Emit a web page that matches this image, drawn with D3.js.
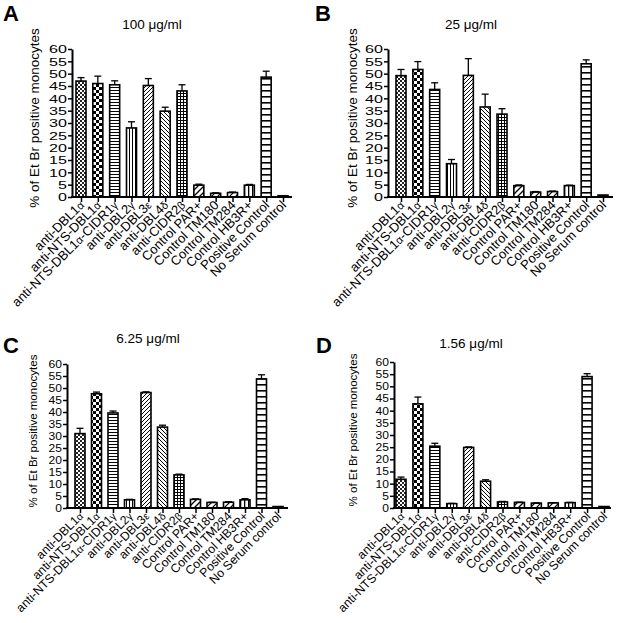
<!DOCTYPE html>
<html><head><meta charset="utf-8">
<script src="https://cdn.jsdelivr.net/npm/d3@7"></script>
<style>body{margin:0;background:#fff} svg{display:block}</style>
</head><body>
<svg id="c" width="617" height="623"></svg>
<script>
const categories = ["anti-DBL1α","anti-NTS-DBL1α","anti-NTS-DBL1α-CIDR1γ","anti-DBL2γ","anti-DBL3ε","anti-DBL4δ","anti-CIDR2β","Control PAR+","Control TM180","Control TM284","Control HB3R+","Positive Control","No Serum control"];
const concentrations = ["100 μg/ml","25 μg/ml","6.25 μg/ml","1.56 μg/ml"];
const panelLetters = ["A","B","C","D"];
const yTicks = [0,5,10,15,20,25,30,35,40,45,50,55,60];
const yLabel = "% of Et Br positive monocytes";

const values100 = [47, 46, 45.5, 28, 45.2, 34.8, 43, 4.8, 1.5, 1.8, 4.8, 48.6, 0.5];
const errors100 = [1.4, 3, 1.6, 2.5, 2.8, 1.6, 2.5, 0.4, 0.2, 0.2, 0.3, 2.4, 0];
const values25  = [49.2, 51.7, 43.6, 13.5, 49.3, 36.5, 33.6, 4.6, 2.0, 2.2, 4.6, 54, 0.8];
const errors25  = [2.5, 3.2, 2.7, 1.7, 6.8, 5.2, 2.2, 0.3, 0.2, 0.2, 0.2, 1.6, 0];
const values625 = [31, 47.6, 39.6, 3.4, 48.1, 33.7, 13.8, 3.6, 2.3, 2.4, 3.4, 53.8, 0.6];
const errors625 = [2.2, 0.7, 0.8, 0.2, 0.3, 0.8, 0.3, 0.2, 0.1, 0.2, 0.5, 1.7, 0];
const values156 = [11.8, 42.8, 25.4, 1.8, 24.9, 11, 2.5, 2.3, 2.0, 2.1, 2.2, 54, 0.6];
const errors156 = [0.9, 2.8, 1.2, 0.1, 0.2, 0.6, 0.2, 0.1, 0.1, 0.1, 0.1, 1.2, 0];

const seriesValues = [values100, values25, values625, values156];
const seriesErrors = [errors100, errors25, errors625, errors156];

// layout (positions / sizes), kept apart from data
const layout = [
  {x0:72, xEnd:292, c0:81, c1:283, yTop:49, yBase:197, letterX:3, letterY:21, titleX:152, titleY:29, ylabX:34, ylabY:118, ylabSize:13.5, tickFont:11.5, tickStretch:1.4, xlabFont:13},
  {x0:388, xEnd:613, c0:401, c1:603, yTop:49, yBase:197, letterX:315, letterY:21, titleX:471, titleY:29, ylabX:352, ylabY:118, ylabSize:13.5, tickFont:11.5, tickStretch:1.4, xlabFont:13},
  {x0:67, xEnd:288, c0:80, c1:278, yTop:364, yBase:508, letterX:3, letterY:353, titleX:148, titleY:343, ylabX:33, ylabY:431, ylabSize:11.5, tickFont:10.5, tickStretch:1.15, xlabFont:12.3},
  {x0:394, xEnd:611, c0:401, c1:604, yTop:362, yBase:508, letterX:316, letterY:353, titleX:471, titleY:348, ylabX:353, ylabY:430, ylabSize:11.5, tickFont:10.5, tickStretch:1.15, xlabFont:12.3}
];

const FONT = "'Liberation Sans', Arial, Helvetica, sans-serif";
const svg = d3.select("#c");
svg.append("rect").attr("width",617).attr("height",623).attr("fill","#fff");
const defs = svg.append("defs");

function pat(id, w, h, draw) {
  const p = defs.append("pattern").attr("id", id).attr("patternUnits","userSpaceOnUse")
    .attr("width", w).attr("height", h);
  p.append("rect").attr("width", w).attr("height", h).attr("fill", "#fff");
  draw(p);
}
pat("p0", 4, 4, p => { p.append("rect").attr("width",2).attr("height",2).attr("fill","#222");
                        p.append("rect").attr("x",2).attr("y",2).attr("width",2).attr("height",2).attr("fill","#222"); });
pat("p1", 6, 6, p => { p.append("rect").attr("width",3).attr("height",3).attr("fill","#000");
                        p.append("rect").attr("x",3).attr("y",3).attr("width",3).attr("height",3).attr("fill","#000"); });
pat("p2", 3, 3, p => { p.append("rect").attr("width",3).attr("height",1).attr("fill","#000"); });
pat("p3", 3, 3, p => { p.append("rect").attr("width",1).attr("height",3).attr("fill","#000"); });
pat("p4", 4, 4, p => { p.append("path").attr("d","M0,4L4,0M-1,1L1,-1M3,5L5,3").attr("stroke","#000").attr("stroke-width",1); });
pat("p5", 4, 4, p => { p.append("path").attr("d","M0,0L4,4M-1,3L1,5M3,-1L5,1").attr("stroke","#000").attr("stroke-width",1); });
pat("p6", 3, 3, p => { p.append("rect").attr("width",3).attr("height",1).attr("fill","#000");
                        p.append("rect").attr("width",1).attr("height",3).attr("fill","#000"); });
pat("p7", 6, 6, p => { p.append("path").attr("d","M0,6L6,0M-1,1L1,-1M5,7L7,5").attr("stroke","#000").attr("stroke-width",1.3); });
pat("p8", 6, 6, p => { p.append("path").attr("d","M0,6L6,0M-1,1L1,-1M5,7L7,5").attr("stroke","#000").attr("stroke-width",1.2); });
pat("p9", 6, 6, p => { p.append("path").attr("d","M0,6L6,0M-1,1L1,-1M5,7L7,5").attr("stroke","#000").attr("stroke-width",1.2); });
pat("p10", 4, 4, p => { p.append("rect").attr("width",1.3).attr("height",4).attr("fill","#000"); });
pat("p11", 6, 6, p => { p.append("rect").attr("width",6).attr("height",1.6).attr("fill","#000"); });
const fills = ["url(#p0)","url(#p1)","url(#p2)","url(#p3)","url(#p4)","url(#p5)","url(#p6)","url(#p7)","url(#p8)","url(#p9)","url(#p10)","url(#p11)","#000"];

function greekText(sel, str, size) {
  str.split(/([α-ω])/).forEach(part => {
    if (!part) return;
    const t = sel.append("tspan").text(part);
    if (/[α-ω]/.test(part)) t.attr("font-size", size * 0.85);
  });
}

layout.forEach((L, pi) => {
  const vals = seriesValues[pi], errs = seriesErrors[pi];
  const g = svg.append("g");
  const y = d3.scaleLinear().domain([0, 60]).range([L.yBase, L.yTop]);
  const x = d3.scalePoint().domain(categories).range([L.c0, L.c1]);
  const bw = 10;

  // bars
  g.selectAll("rect.bar").data(categories).join("rect").attr("class","bar")
    .attr("x", d => x(d) - bw/2).attr("width", bw)
    .attr("y", (d,i) => y(vals[i])).attr("height", (d,i) => L.yBase - y(vals[i]))
    .attr("fill", (d,i) => fills[i]).attr("stroke", "#000").attr("stroke-width", 1.6);

  // error bars (upper only)
  const eg = g.selectAll("g.err").data(categories.filter((d,i) => errs[i] > 0)).join("g").attr("class","err");
  eg.append("line").attr("x1", d => x(d)).attr("x2", d => x(d))
    .attr("y1", d => y(vals[categories.indexOf(d)])).attr("y2", d => { const i = categories.indexOf(d); return y(vals[i] + errs[i]); })
    .attr("stroke","#000").attr("stroke-width",1.3);
  eg.append("line").attr("x1", d => x(d) - 3.5).attr("x2", d => x(d) + 3.5)
    .attr("y1", d => { const i = categories.indexOf(d); return y(vals[i] + errs[i]); })
    .attr("y2", d => { const i = categories.indexOf(d); return y(vals[i] + errs[i]); })
    .attr("stroke","#000").attr("stroke-width",1.3);

  // y axis
  const ya = g.append("g").attr("transform", `translate(${L.x0},0)`)
    .call(d3.axisLeft(y).tickValues(yTicks).tickSize(4).tickSizeOuter(0).tickPadding(1));
  ya.select(".domain").attr("stroke-width", 2);
  ya.selectAll(".tick line").attr("stroke-width", 1.5);
  ya.selectAll(".tick text").attr("font-family", FONT).attr("font-size", L.tickFont).attr("fill","#000")
    .attr("x", -5 / L.tickStretch).attr("transform", `scale(${L.tickStretch},1)`);

  // x axis
  const xa = g.append("g").attr("transform", `translate(0,${L.yBase})`)
    .call(d3.axisBottom(x).tickSize(5).tickSizeOuter(0).tickFormat(""));
  xa.select(".domain").remove();
  xa.selectAll(".tick line").attr("stroke-width", 1.5);
  g.append("line").attr("x1", L.x0 - 1).attr("x2", L.xEnd).attr("y1", L.yBase).attr("y2", L.yBase)
    .attr("stroke","#000").attr("stroke-width",2);

  // x labels
  categories.forEach(c => {
    const t = g.append("text").attr("font-family", FONT).attr("font-size", L.xlabFont)
      .attr("text-anchor","end")
      .attr("transform", `translate(${x(c) + 4},${L.yBase + 9}) rotate(-45)`);
    greekText(t, c, L.xlabFont);
  });

  // y label
  g.append("text").attr("font-family", FONT).attr("font-size", L.ylabSize)
    .attr("text-anchor","middle").attr("dominant-baseline","central")
    .attr("transform", `translate(${L.ylabX},${L.ylabY}) rotate(-90)`).text(yLabel);

  // title
  g.append("text").attr("font-family", FONT).attr("font-size", 13.5).attr("text-anchor","middle")
    .attr("x", L.titleX).attr("y", L.titleY).text(concentrations[pi]);

  // panel letter
  g.append("text").attr("font-family", FONT).attr("font-size", 22).attr("font-weight","bold")
    .attr("x", L.letterX).attr("y", L.letterY).text(panelLetters[pi]);
});
</script>
</body></html>
